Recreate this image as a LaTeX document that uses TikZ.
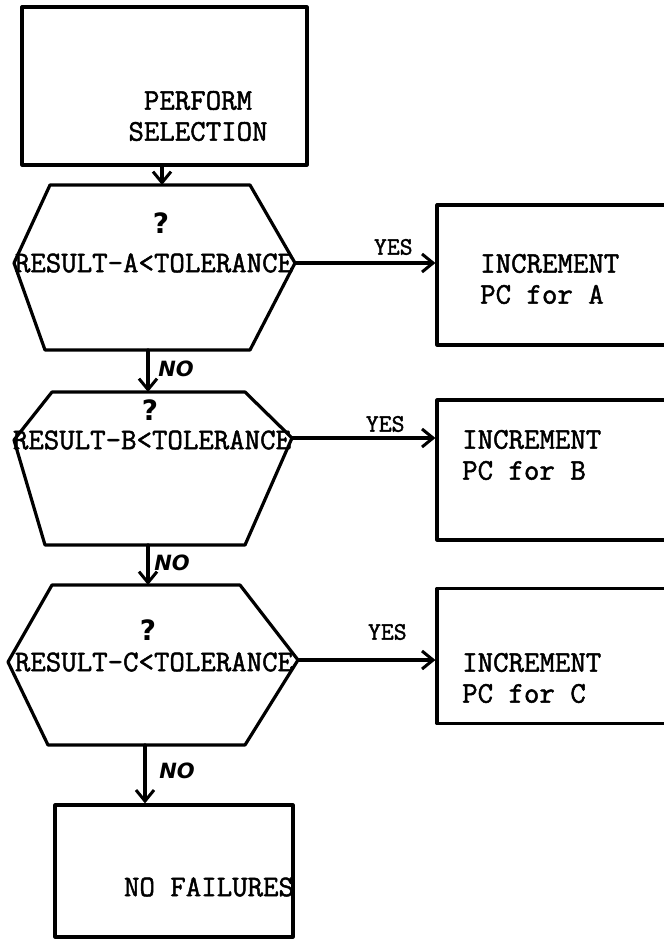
\documentclass[tikz,border=0pt]{standalone}
\usepackage{fontspec}
\newfontfamily\tw[FakeBold=1.6]{Latin Modern Mono}
\newfontfamily\hand{DejaVu Sans}
\usetikzlibrary{arrows.meta}
\tikzset{
  ln/.style={line width=3.2pt, line join=round, line cap=round},
  boxs/.style={ln, draw, rectangle, inner sep=0pt},
  txt/.style={font=\tw\fontsize{30}{31}\selectfont, inner sep=0pt, align=left},
  yes/.style={font=\tw\fontsize{25}{27}\selectfont, inner sep=0pt},
  nolab/.style={font=\hand\bfseries\itshape\fontsize{21}{22}\selectfont, inner sep=0pt},
  qm/.style={font=\hand\bfseries\fontsize{28}{30}\selectfont, inner sep=0pt},
  arr/.style={ln, -{Straight Barb[length=11pt,width=18pt,line width=3pt]}},
}
\begin{document}
\begin{tikzpicture}[x=1pt,y=-1pt]
\useasboundingbox (0,0) rectangle (663,941);
% top box
\node[boxs, minimum width=285pt, minimum height=158pt] (sel) at (164.5,86) {};
\node[txt, align=center] (seltxt) at (198,116) {PERFORM\\SELECTION};
% hexagon 1
\coordinate (h1t) at (162,185);
\coordinate (h1b) at (148,350);
\coordinate (h1r) at (295,263);
\draw[ln] (50,185) -- (250,185) -- (h1r) -- (250,350) -- (45,350) -- (14,263) -- cycle;
\node[txt] (h1txt) at (154,263) {RESULT-A<TOLERANCE};
\node[qm] (q1) at (161,223) {?};
% hexagon 2
\coordinate (h2t) at (148,392);
\coordinate (h2b) at (148,545);
\coordinate (h2r) at (292,438);
\draw[ln] (52,392) -- (245,392) -- (h2r) -- (245,545) -- (45,545) -- (14,440) -- cycle;
\node[txt] (h2txt) at (152,440) {RESULT-B<TOLERANCE};
\node[qm] (q2) at (150,410) {?};
% hexagon 3
\coordinate (h3t) at (150,585);
\coordinate (h3b) at (145,745);
\coordinate (h3r) at (298,660);
\draw[ln] (52,585) -- (240,585) -- (h3r) -- (245,745) -- (48,745) -- (8,662) -- cycle;
\node[txt] (h3txt) at (154,662) {RESULT-C<TOLERANCE};
\node[qm] (q3) at (148,630) {?};
% side boxes
\node[boxs, minimum width=240pt, minimum height=140pt] (ba) at (557,275) {};
\node[txt, anchor=west] (batxt) at (480,279) {INCREMENT\\PC for A};
\node[boxs, minimum width=240pt, minimum height=140pt] (bb) at (557,470) {};
\node[txt, anchor=west] (bbtxt) at (462,455) {INCREMENT\\PC for B};
\node[boxs, minimum width=240pt, minimum height=135pt] (bc) at (557,656) {};
\node[txt, anchor=west] (bctxt) at (462,678) {INCREMENT\\PC for C};
% bottom box
\node[boxs, minimum width=238pt, minimum height=132pt] (nf) at (174,871) {};
\node[txt] (nftxt) at (209,887) {NO FAILURES};
% vertical arrows
\draw[arr] (sel.south -| h1t) -- (h1t);
\draw[arr] (h1b) -- (h2t) node[nolab, pos=0.45, xshift=28pt] {NO};
\draw[arr] (h2b) -- (h2b |- h3t) node[nolab, pos=0.45, xshift=24pt] {NO};
\draw[arr] (h3b) -- (h3b |- nf.north) node[nolab, pos=0.45, xshift=32pt] {NO};
% yes arrows
\draw[arr] (h1r) -- (h1r -| ba.west) node[yes, pos=0.7, yshift=16pt] {YES};
\draw[arr] (h2r) -- (h2r -| bb.west) node[yes, pos=0.65, yshift=14pt] {YES};
\draw[arr] (h3r) -- (h3r -| bc.west) node[yes, pos=0.65, yshift=28pt] {YES};
\end{tikzpicture}
\end{document}
